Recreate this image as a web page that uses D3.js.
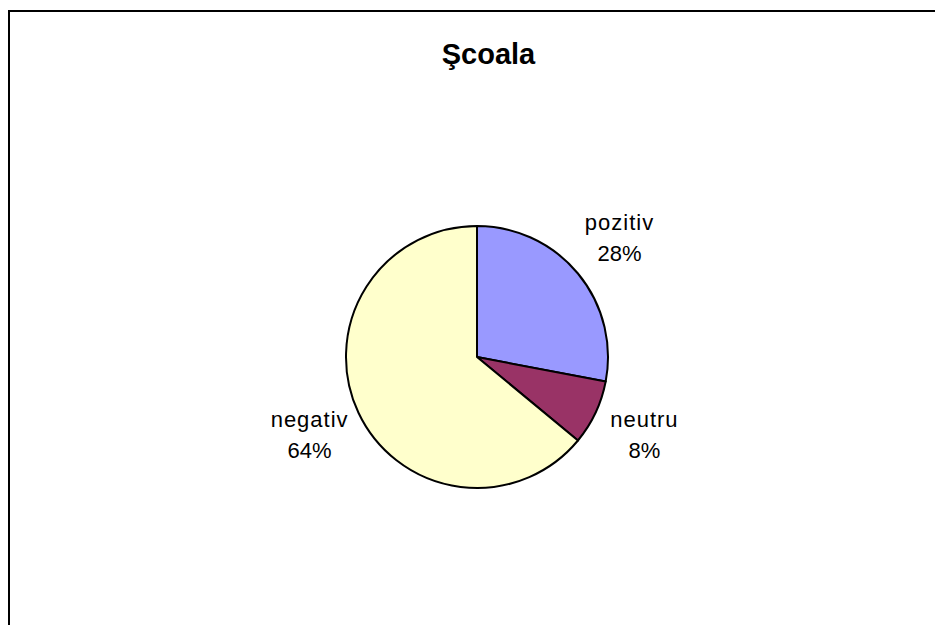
<!DOCTYPE html>
<html>
<head>
<meta charset="utf-8">
<script src="https://cdn.jsdelivr.net/npm/d3@7"></script>
<style>
  html, body { margin: 0; padding: 0; background: #fff; }
  svg { display: block; font-family: "Liberation Sans", Arial, sans-serif; }
</style>
</head>
<body>
<svg id="chart"></svg>
<script>
var title = "Şcoala";
var categories = ["pozitiv", "neutru", "negativ"];
var values = [28, 8, 64];
var colors = ["#9999FF", "#993366", "#FFFFCC"];

var width = 935,
    height = 625;

var cx = 477,
    cy = 357,
    radius = 131,
    labelRadius = 185;

var svg = d3.select("#chart")
    .attr("width", width)
    .attr("height", height);

// chart border (runs off the right and bottom of the picture)
svg.append("rect")
    .attr("x", 9)
    .attr("y", 11)
    .attr("width", 960)
    .attr("height", 700)
    .attr("fill", "#fff")
    .attr("stroke", "#000")
    .attr("stroke-width", 2);

svg.append("text")
    .attr("x", 488.5)
    .attr("y", 64)
    .attr("text-anchor", "middle")
    .attr("font-size", 29)
    .attr("font-weight", "bold")
    .text(title);

var data = categories.map(function(c, i) { return { name: c, value: values[i], color: colors[i] }; });
var total = d3.sum(values);

var pie = d3.pie()
    .value(function(d) { return d.value; })
    .sort(null);

var arc = d3.arc()
    .innerRadius(0)
    .outerRadius(radius);

var labelArc = d3.arc()
    .innerRadius(labelRadius)
    .outerRadius(labelRadius);

var g = svg.append("g")
    .attr("transform", "translate(" + cx + "," + cy + ")");

var arcs = pie(data);

g.selectAll(".slice")
    .data(arcs)
    .enter()
    .append("path")
    .attr("class", "slice")
    .attr("d", arc)
    .attr("fill", function(d) { return d.data.color; })
    .attr("stroke", "#000")
    .attr("stroke-width", 2)
    .attr("stroke-linejoin", "round");

var labels = g.selectAll(".label")
    .data(arcs)
    .enter()
    .append("text")
    .attr("class", "label")
    .attr("text-anchor", "middle")
    .attr("font-size", 22)
    .attr("fill", "#000");

labels.append("tspan")
    .attr("x", function(d) { return labelArc.centroid(d)[0]; })
    .attr("y", function(d) { return labelArc.centroid(d)[1] - 9; })
    .attr("letter-spacing", 1)
    .text(function(d) { return d.data.name; });

labels.append("tspan")
    .attr("x", function(d) { return labelArc.centroid(d)[0]; })
    .attr("y", function(d) { return labelArc.centroid(d)[1] + 22; })
    .text(function(d) { return Math.round(d.data.value / total * 100) + "%"; });
</script>
</body>
</html>
